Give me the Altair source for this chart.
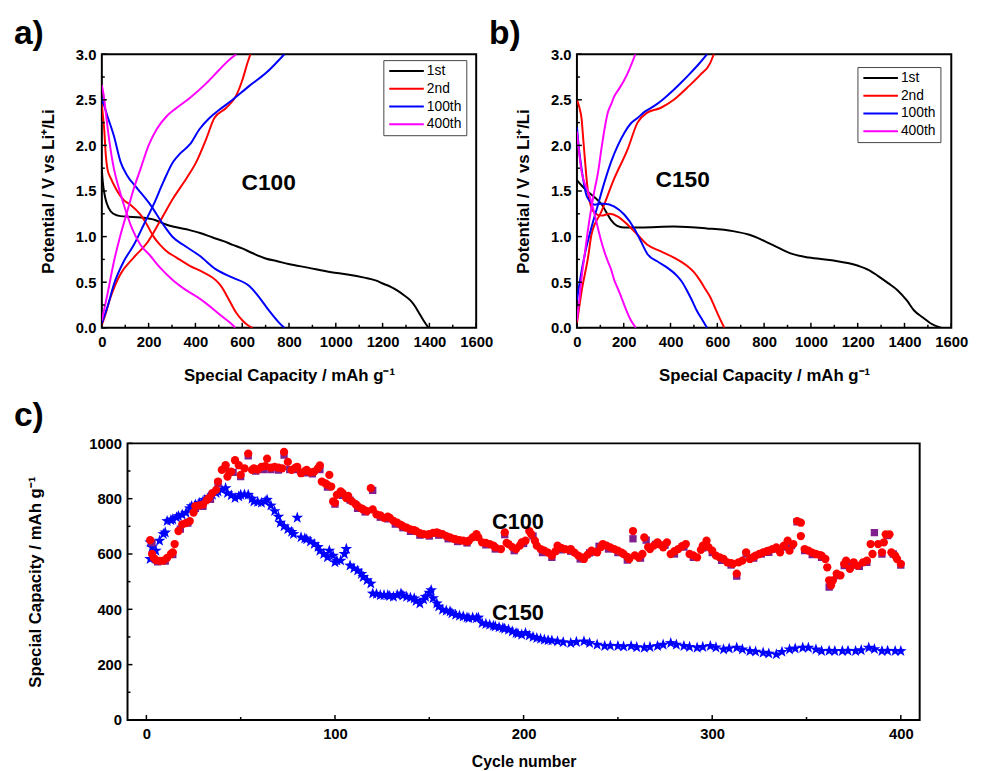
import altair as alt
import pandas as pd

FONT = "Liberation Sans"
CYCLES = ["1st", "2nd", "100th", "400th"]
COLORS = ["#000000", "#ff0000", "#0000ff", "#ff00ff"]

# ---------------- panel a (C100) voltage profiles ----------------
a_1st_dis_cap = [0, 3, 8, 15, 30, 50, 70, 100, 165, 230, 277, 362, 420, 474, 520, 559, 600, 643, 700, 750, 798, 880, 981, 1050, 1122, 1170, 1206, 1235, 1262, 1290, 1319, 1340, 1354, 1375, 1396]
a_1st_dis_v = [1.75, 1.63, 1.52, 1.42, 1.31, 1.25, 1.23, 1.22, 1.21, 1.18, 1.13, 1.08, 1.04, 0.99, 0.95, 0.91, 0.87, 0.82, 0.76, 0.73, 0.70, 0.66, 0.61, 0.585, 0.55, 0.52, 0.48, 0.45, 0.41, 0.36, 0.30, 0.23, 0.17, 0.08, 0.0]
a_2nd_dis_cap = [0, 5, 10, 17, 24, 38, 59, 94, 122, 165, 193, 221, 249, 277, 319, 376, 432, 488, 509, 545, 573, 601, 629, 645]
a_2nd_dis_v = [2.45, 2.32, 2.18, 1.89, 1.74, 1.64, 1.53, 1.40, 1.35, 1.24, 1.13, 1.00, 0.91, 0.84, 0.77, 0.68, 0.61, 0.52, 0.46, 0.30, 0.17, 0.08, 0.02, 0.0]
a_2nd_chg_cap = [0, 17, 38, 59, 80, 136, 193, 249, 305, 362, 404, 446, 481, 531, 573, 601, 622, 635]
a_2nd_chg_v = [0.03, 0.16, 0.34, 0.48, 0.59, 0.77, 0.93, 1.17, 1.42, 1.64, 1.82, 2.07, 2.30, 2.41, 2.54, 2.72, 2.90, 3.0]
a_100_dis_cap = [0, 24, 52, 80, 108, 151, 207, 263, 305, 348, 418, 488, 559, 629, 671, 714, 756, 780]
a_100_dis_v = [2.52, 2.32, 2.10, 1.82, 1.67, 1.53, 1.35, 1.13, 0.99, 0.91, 0.79, 0.64, 0.55, 0.46, 0.34, 0.19, 0.06, 0.0]
a_100_chg_cap = [0, 24, 52, 94, 137, 179, 221, 263, 305, 334, 376, 418, 460, 502, 559, 629, 700, 780]
a_100_chg_v = [0.05, 0.23, 0.48, 0.73, 0.91, 1.13, 1.35, 1.60, 1.82, 1.91, 2.01, 2.18, 2.30, 2.39, 2.50, 2.65, 2.79, 3.0]
a_400_dis_cap = [0, 8, 17, 31, 52, 73, 94, 129, 165, 207, 249, 305, 362, 418, 474, 516, 559, 570]
a_400_dis_v = [2.66, 2.55, 2.36, 2.07, 1.74, 1.53, 1.35, 1.09, 0.91, 0.79, 0.66, 0.52, 0.41, 0.32, 0.21, 0.12, 0.03, 0.0]
a_400_chg_cap = [0, 24, 52, 80, 108, 137, 165, 200, 235, 277, 319, 376, 446, 502, 545, 575]
a_400_chg_v = [0.08, 0.37, 0.73, 1.02, 1.27, 1.53, 1.74, 2.0, 2.18, 2.32, 2.41, 2.52, 2.68, 2.83, 2.94, 3.0]

# ---------------- panel b (C150) voltage profiles ----------------
b_1st_dis_cap = [0, 20, 48, 80, 104, 125, 146, 170, 200, 273, 414, 554, 667, 737, 836, 920, 991, 1089, 1202, 1250, 1286, 1330, 1371, 1410, 1441, 1480, 1511, 1556]
b_1st_dis_v = [1.62, 1.56, 1.49, 1.42, 1.36, 1.27, 1.18, 1.12, 1.10, 1.10, 1.11, 1.09, 1.06, 1.02, 0.91, 0.81, 0.77, 0.74, 0.68, 0.63, 0.57, 0.49, 0.41, 0.30, 0.19, 0.11, 0.05, 0.0]
b_2nd_dis_cap = [0, 10, 20, 27, 34, 41, 48, 55, 76, 104, 140, 175, 217, 259, 301, 357, 414, 470, 500, 526, 550, 569, 590, 604, 630]
b_2nd_dis_v = [2.50, 2.42, 2.29, 2.07, 1.85, 1.64, 1.48, 1.38, 1.26, 1.23, 1.25, 1.22, 1.13, 1.02, 0.91, 0.84, 0.77, 0.68, 0.61, 0.52, 0.42, 0.34, 0.22, 0.14, 0.0]
b_2nd_chg_cap = [0, 20, 48, 62, 104, 160, 217, 259, 301, 357, 414, 470, 526, 569, 585]
b_2nd_chg_v = [0.05, 0.40, 0.78, 1.02, 1.27, 1.64, 1.96, 2.25, 2.36, 2.41, 2.50, 2.63, 2.77, 2.90, 3.0]
b_100_dis_cap = [0, 8, 20, 30, 41, 55, 76, 100, 118, 160, 203, 245, 273, 301, 343, 386, 428, 450, 470, 490, 512, 535, 556]
b_100_dis_v = [2.2, 1.98, 1.74, 1.58, 1.45, 1.39, 1.35, 1.36, 1.36, 1.33, 1.24, 1.09, 0.95, 0.81, 0.73, 0.66, 0.57, 0.50, 0.41, 0.31, 0.19, 0.09, 0.0]
b_100_chg_cap = [0, 15, 34, 60, 90, 118, 146, 175, 203, 230, 259, 290, 329, 370, 414, 450, 484, 520, 556]
b_100_chg_v = [0.30, 0.55, 0.81, 1.08, 1.35, 1.60, 1.82, 2.00, 2.14, 2.24, 2.30, 2.37, 2.43, 2.51, 2.61, 2.70, 2.79, 2.89, 3.0]
b_400_dis_cap = [0, 8, 20, 34, 48, 62, 76, 90, 104, 118, 132, 146, 160, 175, 189, 210, 231, 252]
b_400_dis_v = [2.15, 1.95, 1.71, 1.58, 1.49, 1.38, 1.24, 1.09, 0.95, 0.83, 0.73, 0.64, 0.52, 0.43, 0.34, 0.20, 0.08, 0.0]
b_400_chg_cap = [0, 10, 20, 34, 48, 62, 76, 90, 104, 118, 132, 146, 160, 180, 203, 225, 250]
b_400_chg_v = [0.08, 0.30, 0.55, 0.82, 1.09, 1.32, 1.52, 1.70, 1.95, 2.18, 2.36, 2.45, 2.54, 2.62, 2.72, 2.84, 3.0]

# ---------------- panel c cycling ----------------
c100_cyc = [2, 3, 4, 5, 7, 9, 11, 13, 14, 15, 17, 19, 21, 23, 25, 26, 28, 30, 32, 33, 35, 37, 38, 40, 42, 43, 44, 45, 47, 49, 50, 52, 54, 56, 57, 59, 61, 63, 64, 66, 68, 70, 72, 73, 75, 77, 79, 80, 82, 84, 85, 87, 89, 91, 92, 93, 95, 96, 97, 98, 99, 100, 101, 103, 104, 106, 107, 109, 111, 112, 114, 115, 117, 119, 120, 122, 124, 126, 128, 129, 131, 133, 135, 136, 138, 140, 142, 143, 145, 147, 149, 150, 152, 154, 155, 157, 159, 161, 163, 164, 166, 168, 170, 171, 173, 175, 176, 178, 180, 182, 184, 185, 188, 190, 191, 192, 194, 196, 198, 199, 201, 203, 204, 206, 207, 209, 211, 213, 215, 217, 218, 220, 222, 224, 225, 227, 229, 231, 232, 234, 236, 238, 239, 241, 242, 244, 246, 248, 250, 252, 253, 255, 256, 258, 259, 261, 263, 264, 266, 267, 269, 271, 272, 274, 276, 278, 280, 282, 284, 286, 288, 290, 292, 294, 295, 297, 298, 300, 302, 304, 306, 308, 310, 311, 313, 314, 316, 318, 320, 322, 323, 325, 327, 329, 330, 332, 334, 336, 338, 340, 341, 343, 345, 347, 347, 349, 351, 353, 355, 357, 358, 360, 361, 362, 363, 364, 366, 368, 370, 371, 373, 375, 377, 380, 382, 384, 385, 388, 390, 391, 392, 394, 395, 397, 398, 400]
c100_cap = [650, 600, 585, 578, 575, 576, 586, 600, 606, 636, 683, 707, 712, 719, 750, 773, 776, 779, 795, 802, 820, 832, 862, 904, 921, 880, 895, 898, 939, 921, 886, 910, 963, 904, 910, 905, 915, 918, 945, 912, 915, 912, 910, 969, 933, 904, 912, 915, 892, 900, 904, 895, 898, 910, 920, 862, 855, 850, 886, 844, 790, 785, 814, 826, 820, 802, 810, 790, 780, 773, 765, 761, 755, 838, 761, 743, 740, 731, 735, 731, 720, 713, 705, 701, 695, 689, 686, 683, 675, 672, 670, 672, 676, 678, 675, 672, 665, 660, 655, 653, 650, 648, 645, 648, 660, 672, 660, 642, 640, 636, 630, 624, 618, 678, 640, 636, 625, 618, 630, 642, 648, 683, 672, 648, 630, 618, 612, 605, 594, 610, 630, 622, 618, 615, 618, 605, 594, 588, 582, 598, 612, 608, 606, 625, 636, 630, 624, 618, 612, 605, 600, 590, 582, 683, 595, 588, 600, 660, 625, 618, 630, 642, 635, 624, 642, 600, 610, 618, 628, 636, 600, 595, 588, 615, 630, 648, 625, 612, 594, 588, 582, 570, 567, 564, 529, 570, 576, 606, 582, 590, 594, 600, 606, 610, 612, 618, 624, 606, 630, 648, 612, 636, 719, 713, 665, 618, 612, 605, 600, 596, 594, 582, 552, 505, 487, 505, 529, 523, 564, 576, 546, 570, 558, 570, 576, 636, 600, 636, 606, 642, 671, 671, 606, 594, 582, 564]

c100b_cyc = [3, 6, 10, 14, 18, 22, 26, 30, 34, 38, 42, 46, 50, 54, 58, 62, 66, 70, 73, 76, 80, 84, 88, 92, 96, 100, 104, 108, 112, 116, 120, 124, 128, 132, 136, 140, 145, 150, 155, 160, 165, 170, 175, 180, 185, 190, 195, 200, 205, 210, 215, 220, 225, 230, 235, 240, 245, 250, 255, 258, 262, 265, 270, 275, 280, 285, 290, 295, 300, 305, 310, 313, 318, 322, 326, 330, 334, 338, 342, 345, 349, 353, 358, 362, 366, 370, 374, 378, 382, 386, 390, 393, 396, 400]
c100b_cap = [640, 572, 574, 598, 690, 712, 765, 772, 798, 855, 912, 895, 880, 955, 900, 905, 905, 903, 958, 905, 905, 893, 890, 905, 842, 780, 812, 795, 765, 752, 830, 733, 727, 708, 695, 682, 668, 665, 668, 655, 645, 640, 662, 633, 618, 670, 612, 638, 665, 605, 588, 615, 610, 582, 604, 628, 618, 605, 578, 655, 585, 650, 635, 632, 600, 625, 588, 622, 605, 577, 560, 520, 600, 585, 600, 606, 618, 625, 630, 716, 612, 598, 588, 480, 522, 558, 560, 555, 570, 677, 600, 667, 600, 560]

c150_cyc = [2, 2, 3, 5, 7, 9, 10, 11, 13, 14, 16, 17, 19, 21, 23, 24, 26, 28, 30, 31, 33, 35, 37, 38, 40, 42, 43, 45, 47, 49, 50, 52, 54, 56, 57, 59, 61, 63, 64, 66, 68, 70, 71, 73, 75, 77, 78, 80, 82, 84, 85, 87, 89, 91, 92, 94, 96, 97, 99, 100, 101, 103, 105, 106, 108, 110, 112, 114, 115, 117, 119, 120, 122, 124, 126, 128, 129, 131, 133, 135, 136, 138, 140, 142, 143, 145, 147, 148, 150, 151, 152, 154, 155, 157, 159, 161, 162, 164, 166, 168, 170, 171, 173, 175, 176, 178, 180, 182, 184, 185, 187, 189, 190, 192, 194, 196, 197, 199, 201, 203, 205, 207, 209, 211, 213, 215, 218, 221, 225, 228, 232, 235, 239, 243, 246, 250, 253, 257, 260, 264, 267, 271, 274, 278, 281, 285, 288, 292, 295, 299, 302, 306, 309, 313, 316, 320, 323, 327, 330, 334, 337, 341, 344, 348, 351, 355, 358, 362, 365, 369, 372, 376, 379, 383, 386, 390, 393, 397, 400]
c150_cap = [582, 642, 624, 612, 648, 672, 678, 719, 722, 725, 732, 737, 742, 749, 765, 773, 778, 785, 790, 796, 805, 814, 820, 826, 832, 838, 820, 812, 802, 808, 814, 815, 814, 800, 790, 788, 785, 790, 796, 775, 755, 735, 713, 700, 689, 680, 672, 731, 660, 656, 653, 645, 636, 625, 612, 600, 588, 612, 594, 570, 576, 576, 600, 618, 558, 548, 540, 528, 517, 505, 493, 457, 455, 451, 451, 451, 448, 445, 452, 457, 450, 445, 442, 439, 430, 421, 435, 445, 460, 469, 440, 421, 410, 398, 395, 392, 386, 380, 377, 374, 370, 368, 370, 368, 370, 350, 347, 344, 340, 338, 335, 332, 330, 326, 320, 314, 312, 308, 314, 305, 300, 296, 293, 290, 288, 287, 284, 281, 278, 282, 284, 278, 272, 267, 268, 267, 265, 267, 263, 261, 264, 267, 272, 278, 272, 267, 264, 261, 264, 267, 262, 255, 258, 261, 255, 249, 247, 243, 240, 237, 246, 255, 258, 261, 261, 255, 249, 250, 249, 249, 250, 249, 252, 261, 256, 249, 250, 249, 249]

STAR = "M0,-1L0.235,-0.324L0.951,-0.309L0.380,0.124L0.588,0.809L0,0.4L-0.588,0.809L-0.380,0.124L-0.951,-0.309L-0.235,-0.324Z"


def curves(spec):
    rows = []
    for label, branch, caps, vs in spec:
        for i, (c, v) in enumerate(zip(caps, vs)):
            rows.append({"cap": c, "V": v, "cycle": label, "branch": branch, "idx": i})
    return pd.DataFrame(rows)


df_a = curves([
    ("1st", "d", a_1st_dis_cap, a_1st_dis_v),
    ("2nd", "d", a_2nd_dis_cap, a_2nd_dis_v),
    ("2nd", "c", a_2nd_chg_cap, a_2nd_chg_v),
    ("100th", "d", a_100_dis_cap, a_100_dis_v),
    ("100th", "c", a_100_chg_cap, a_100_chg_v),
    ("400th", "d", a_400_dis_cap, a_400_dis_v),
    ("400th", "c", a_400_chg_cap, a_400_chg_v),
])
df_b = curves([
    ("1st", "d", b_1st_dis_cap, b_1st_dis_v),
    ("2nd", "d", b_2nd_dis_cap, b_2nd_dis_v),
    ("2nd", "c", b_2nd_chg_cap, b_2nd_chg_v),
    ("100th", "d", b_100_dis_cap, b_100_dis_v),
    ("100th", "c", b_100_chg_cap, b_100_chg_v),
    ("400th", "d", b_400_dis_cap, b_400_dis_v),
    ("400th", "c", b_400_chg_cap, b_400_chg_v),
])


def tick_layers(xf, xmaj, xmin, yf, ymaj, ymin, H):
    out = []
    for vals, ln in ((xmaj, 5), (xmin, 3)):
        out.append(alt.Chart(pd.DataFrame({xf: vals})).mark_rule(color="black", strokeWidth=1.5).encode(
            x=alt.X(f"{xf}:Q"), y=alt.value(H), y2=alt.value(H - ln)))
    for vals, ln in ((ymaj, 5), (ymin, 3)):
        out.append(alt.Chart(pd.DataFrame({yf: vals})).mark_rule(color="black", strokeWidth=1.5).encode(
            y=alt.Y(f"{yf}:Q"), x=alt.value(0), x2=alt.value(ln)))
    return out


def voltage_panel(df, label, label_pos, panel, leg_x, leg_y):
    W, H = 379, 277
    xsc = alt.Scale(domain=[0, 1600], nice=False)
    ysc = alt.Scale(domain=[0, 3], nice=False)
    lines = alt.Chart(df).mark_line(strokeWidth=2, interpolate="monotone", clip=True).encode(
        x=alt.X("cap:Q", scale=xsc, axis=alt.Axis(title="Special Capacity / mAh g⁻¹",
                values=list(range(0, 1601, 200)), format="d", labelPadding=7, titlePadding=18)),
        y=alt.Y("V:Q", scale=ysc, axis=alt.Axis(title="Potential / V vs Li⁺/Li",
                values=[0, 0.5, 1.0, 1.5, 2.0, 2.5, 3.0], format=".1f", labelPadding=6, titlePadding=18)),
        color=alt.Color("cycle:N", scale=alt.Scale(domain=CYCLES, range=COLORS),
                        legend=alt.Legend(title=None, orient="none", legendX=leg_x, legendY=leg_y,
                                          symbolType="M-1,0L6,0", symbolSize=100, symbolStrokeWidth=2,
                                          labelFont=FONT, labelFontSize=14, labelColor="black",
                                          labelOffset=26, rowPadding=4, padding=4,
                                          strokeColor="#444", fillColor="white")),
        detail="branch:N",
        order="idx:Q",
    )
    txt = alt.Chart(pd.DataFrame({"cap": [label_pos[0]], "V": [label_pos[1]], "t": [label]})).mark_text(
        font=FONT, fontSize=23, fontWeight="bold", color="black").encode(x="cap:Q", y="V:Q", text="t:N")
    ticks = tick_layers("cap", list(range(0, 1601, 200)), list(range(100, 1600, 200)),
                        "V", [0, 0.5, 1, 1.5, 2, 2.5, 3], [0.25, 0.75, 1.25, 1.75, 2.25, 2.75], H)
    return alt.layer(lines, txt, *ticks).properties(
        width=W, height=H,
        title=alt.TitleParams(panel, anchor="start", frame="group", dx=-89, dy=8, fontSize=34,
                              fontWeight="bold", font=FONT, color="black"))


panel_a = voltage_panel(df_a, "C100", (713, 1.59), "a)", 285, 6)
panel_b = voltage_panel(df_b, "C150", (452, 1.62), "b)", 284, 13)

# panel c
WC, HC = 802, 280
xsc_c = alt.Scale(domain=[-10, 410], nice=False)
ysc_c = alt.Scale(domain=[0, 1000], nice=False)
df_c150 = pd.DataFrame({"cyc": c150_cyc, "capacity": c150_cap})
df_c100 = pd.DataFrame({"cyc": c100_cyc, "capacity": c100_cap})
df_c100b = pd.DataFrame({"cyc": c100b_cyc, "capacity": c100b_cap})

xenc = alt.X("cyc:Q", scale=xsc_c, axis=alt.Axis(title="Cycle number", values=[0, 100, 200, 300, 400],
             format="d", labelPadding=7, titlePadding=12, titleFontSize=16))
yenc = alt.Y("capacity:Q", scale=ysc_c, axis=alt.Axis(title="Special Capacity / mAh g⁻¹",
             values=[0, 200, 400, 600, 800, 1000], format="d", labelPadding=6, titlePadding=45))

blue = alt.Chart(df_c150).mark_point(shape=STAR, filled=True, size=155, color="#0000ff", opacity=1,
                                     strokeWidth=0, clip=True).encode(x=xenc, y=yenc)
purple = alt.Chart(df_c100b).mark_point(shape="square", filled=True, size=55, color="#80208f", opacity=1,
                                        strokeWidth=0, clip=True).encode(x="cyc:Q", y="capacity:Q")
red = alt.Chart(df_c100).mark_point(shape="circle", filled=True, size=70, color="#ff0000", opacity=1,
                                    strokeWidth=0, clip=True).encode(x="cyc:Q", y="capacity:Q")
ctext = alt.Chart(pd.DataFrame({"cyc": [197, 197], "capacity": [714, 386], "t": ["C100", "C150"]})).mark_text(
    font=FONT, fontSize=22, fontWeight="bold", color="black").encode(x="cyc:Q", y="capacity:Q", text="t:N")
cticks = tick_layers("cyc", [0, 100, 200, 300, 400], [50, 150, 250, 350],
                     "capacity", [0, 200, 400, 600, 800, 1000], [100, 300, 500, 700, 900], HC)
panel_c = alt.layer(blue, purple, red, ctext, *cticks).properties(
    width=WC, height=HC,
    title=alt.TitleParams("c)", anchor="start", frame="group", dx=-115, fontSize=34,
                          fontWeight="bold", font=FONT, color="black"))

spacer = alt.Chart(pd.DataFrame({"z": [0]})).mark_point(opacity=0).encode(
    x=alt.value(0), y=alt.value(0)).properties(width=1, height=1, view=alt.ViewBackground(stroke="transparent"))

top = alt.hconcat(panel_a, panel_b, spacing=102, bounds="flush").resolve_scale(color="independent")
bottom = alt.hconcat(spacer, panel_c, spacing=25, bounds="flush")

chart = alt.vconcat(top, bottom, spacing=394, bounds="flush").properties(
    background="white",
    padding={"left": 5, "top": 4, "right": 5, "bottom": 2},
).configure_view(
    stroke="black", strokeWidth=2
).configure_axis(
    labelFont=FONT, labelFontSize=15, labelFontWeight="bold", labelColor="black",
    titleFont=FONT, titleFontSize=17, titleFontWeight="bold", titleColor="black",
    ticks=False, tickSize=0, domain=False, grid=False, labelOverlap=False, labelFlush=False
)

chart.save("out.html", embed_options={"renderer": "svg", "actions": False})
